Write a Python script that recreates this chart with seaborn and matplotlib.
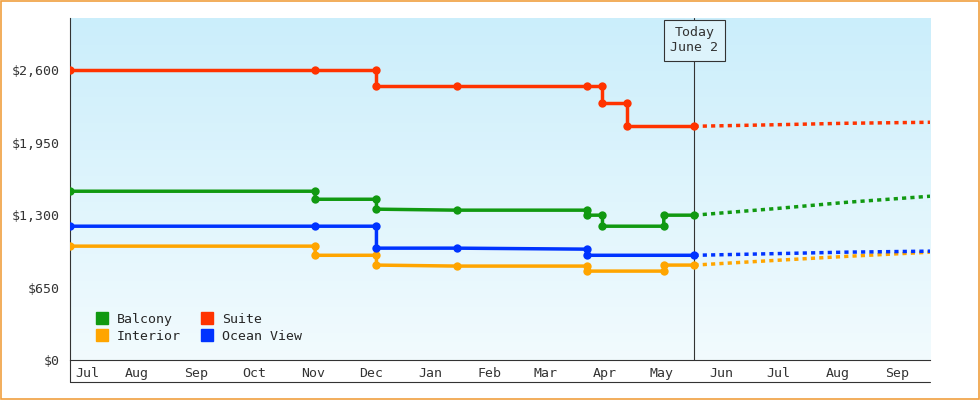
import matplotlib
matplotlib.use("Agg")
import matplotlib.pyplot as plt
import matplotlib.dates as mdates
import numpy as np
import pandas as pd
import seaborn as sns

sns.set_theme(style="white")
plt.rcParams['font.family'] = ['DejaVu Sans Mono']

suite_dates = ["2023-07-12","2023-11-17","2023-12-19","2023-12-19","2024-01-30","2024-04-07","2024-04-15","2024-04-15","2024-04-28","2024-04-28","2024-06-02"]
suite_vals  = [2600,2600,2600,2457,2457,2457,2457,2304,2304,2098,2098]
balc_dates = ["2023-07-12","2023-11-17","2023-11-17","2023-12-19","2023-12-19","2024-01-30","2024-04-07","2024-04-07","2024-04-15","2024-04-15","2024-05-17","2024-05-17","2024-06-02"]
balc_vals  = [1515,1515,1443,1443,1354,1345,1345,1300,1300,1201,1201,1300,1300]
ocean_dates = ["2023-07-12","2023-11-17","2023-12-19","2023-12-19","2024-01-30","2024-04-07","2024-04-07","2024-06-02"]
ocean_vals  = [1201,1201,1201,1004,1004,995,940,940]
inter_dates = ["2023-07-12","2023-11-17","2023-11-17","2023-12-19","2023-12-19","2024-01-30","2024-04-07","2024-04-07","2024-05-17","2024-05-17","2024-06-02"]
inter_vals  = [1022,1022,940,940,852,843,843,798,798,852,852]

fc_dates = ["2024-06-02","2024-07-15","2024-08-20","2024-10-03"]
fc_suite = [2098,2112,2125,2134]
fc_balc  = [1300,1360,1415,1470]
fc_ocean = [940,955,968,977]
fc_inter = [852,895,930,968]

series = [("Balcony", balc_dates, balc_vals, fc_balc, "#119911"),
          ("Suite", suite_dates, suite_vals, fc_suite, "#ff3300"),
          ("Interior", inter_dates, inter_vals, fc_inter, "#ffa500"),
          ("Ocean View", ocean_dates, ocean_vals, fc_ocean, "#0033ff")]

fig = plt.figure(figsize=(9.8, 4.0), dpi=100)
fig.patch.set_facecolor("white")
fig.add_artist(plt.Rectangle((0.001, 0.002), 0.998, 0.996, transform=fig.transFigure,
                             fill=False, edgecolor="#f0a040", lw=1.2))
ax = fig.add_axes([0.0714, 0.1, 0.8776, 0.855])

xmin = pd.Timestamp("2023-07-12"); xmax = pd.Timestamp("2024-10-03")
ymax = 3070
ax.imshow(np.linspace(0, 1, 256).reshape(-1, 1), aspect="auto",
          cmap=matplotlib.colors.LinearSegmentedColormap.from_list("g", ["#cbeefb", "#f2fbfe"]),
          extent=[mdates.date2num(xmin), mdates.date2num(xmax), 0, ymax], origin="upper", zorder=0)

handles = {}
for name, d, v, fc, col in series:
    df = pd.DataFrame({"date": pd.to_datetime(d), "val": v})
    sns.lineplot(data=df, x="date", y="val", ax=ax, color=col, lw=2.5, marker="o",
                 markersize=6, markeredgewidth=0, sort=False, estimator=None, zorder=3)
    dff = pd.DataFrame({"date": pd.to_datetime(fc_dates), "val": fc})
    sns.lineplot(data=dff, x="date", y="val", ax=ax, color=col, lw=2.5, ls=(0, (1.2, 1.2)),
                 sort=False, estimator=None, zorder=3)
    handles[name] = plt.Line2D([], [], color=col, marker="s", ls="none", markersize=8, label=name)

today = pd.Timestamp("2024-06-02")
ax.axvline(today, color="#333333", lw=0.8, zorder=2)
ax.text(mdates.date2num(today), 2870, "Today\nJune 2", ha="center", va="center", fontsize=9.5,
        color="#333333", bbox=dict(boxstyle="square,pad=0.5", fc="#ddf3fb", ec="#333333", lw=0.8), zorder=5)

ax.set_xlim(xmin, xmax); ax.set_ylim(0, ymax)
ax.set_xlabel(""); ax.set_ylabel("")
yt = [0, 650, 1300, 1950, 2600]
ax.set_yticks(yt); ax.set_yticklabels([f"${v:,}" for v in yt], fontsize=9.5, color="#333333")
bounds = pd.date_range("2023-08-01", "2024-10-01", freq="MS")
ax.set_xticks(bounds); ax.set_xticklabels([])
ax.tick_params(axis="x", which="major", length=22, width=0.8, color="#333333", direction="out")
ax.tick_params(axis="y", length=4, width=0.8, color="#333333")
mids = [pd.Timestamp("2023-07-21")] + [b + pd.Timedelta(days=15) for b in bounds[:-1]]
labels = ["Jul","Aug","Sep","Oct","Nov","Dec","Jan","Feb","Mar","Apr","May","Jun","Jul","Aug","Sep"]
for m, lab in zip(mids, labels):
    ax.text(mdates.date2num(m), -0.04, lab, transform=ax.get_xaxis_transform(),
            ha="center", va="center", fontsize=9.5, color="#333333")
ax.plot([0, 0], [0, -0.065], transform=ax.transAxes, color="#333333", lw=0.8, clip_on=False)
ax.plot([0, 1], [-0.065, -0.065], transform=ax.transAxes, color="#333333", lw=0.8, clip_on=False)
for s in ["top", "right"]:
    ax.spines[s].set_visible(False)
for s in ["left", "bottom"]:
    ax.spines[s].set_color("#333333"); ax.spines[s].set_linewidth(0.8)

order = ["Balcony", "Interior", "Suite", "Ocean View"]
ax.legend(handles=[handles[k] for k in order], ncol=2, loc="lower left", bbox_to_anchor=(0.01, 0.02),
          frameon=False, fontsize=9.5, handletextpad=0.1, columnspacing=1.0, labelspacing=0.3, borderpad=0.3)

fig.savefig("out.png", dpi=100)
